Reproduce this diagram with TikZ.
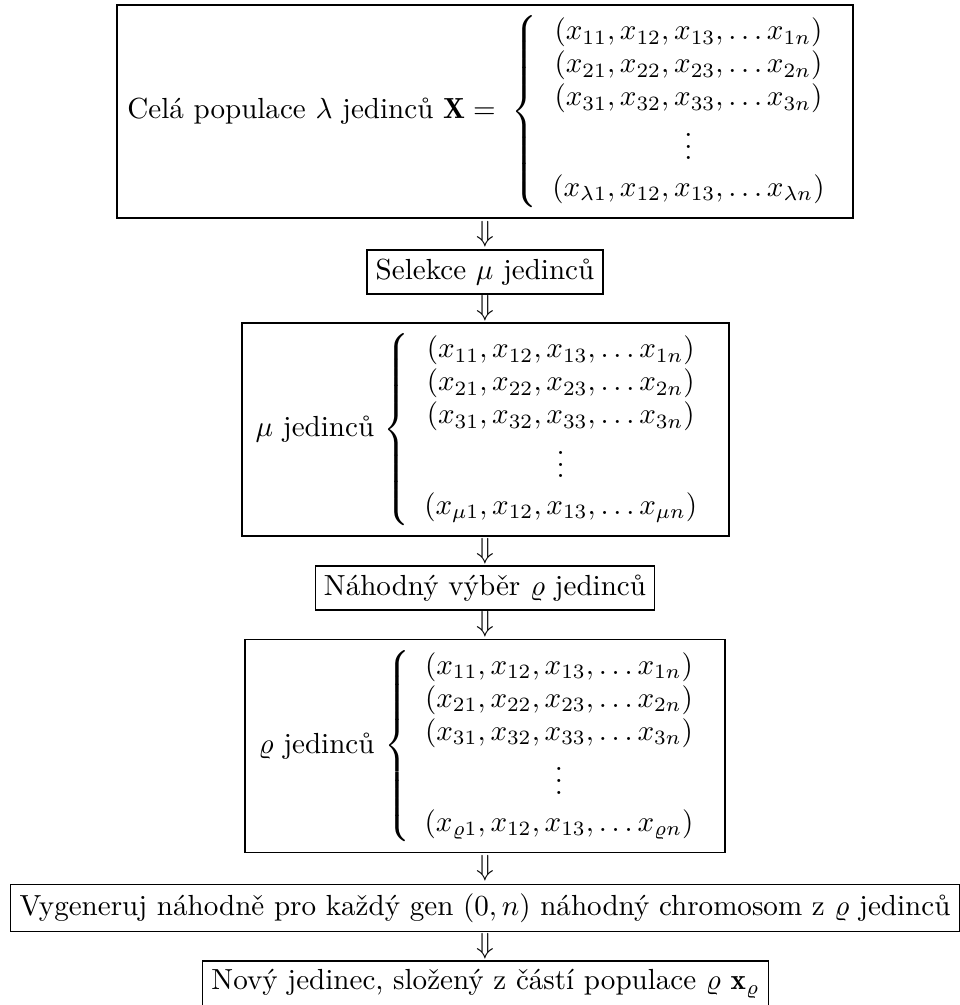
\documentclass[tikz,border=0pt]{standalone}
\usepackage{fontspec}
\usepackage{amsmath}
\renewcommand{\arraystretch}{0.95}
\begin{document}
\begin{tikzpicture}[x=0.344pt,y=-0.344pt,
  box/.style={draw=black, line width=0.4pt, inner sep=3pt, anchor=center, font=\normalsize},
  bigbox/.style={box, minimum height=73.3pt}]
\useasboundingbox (0,0) rectangle (959,1005);
\node[bigbox, minimum width=253.2pt] (b1) at (485,111.5)
  {Celá populace $\lambda$ jedinců $\mathbf{X} = \;\left\{\begin{array}{c}
   (x_{11},x_{12},x_{13},\ldots x_{1n})\\
   (x_{21},x_{22},x_{23},\ldots x_{2n})\\
   (x_{31},x_{32},x_{33},\ldots x_{3n})\\
   \vdots\\[1.3pt]
   (x_{\lambda 1},x_{12},x_{13},\ldots x_{\lambda n})
   \end{array}\right.$};
\node[box] (b2) at (485,272) {Selekce $\mu$ jedinců};
\node[bigbox, minimum width=167.5pt] (b3) at (485.5,429.5)
  {$\mu$ jedinců $\left\{\begin{array}{c}
   (x_{11},x_{12},x_{13},\ldots x_{1n})\\
   (x_{21},x_{22},x_{23},\ldots x_{2n})\\
   (x_{31},x_{32},x_{33},\ldots x_{3n})\\
   \vdots\\[1.3pt]
   (x_{\mu 1},x_{12},x_{13},\ldots x_{\mu n})
   \end{array}\right.$};
\node[box] (b4) at (485,588) {Náhodný výběr $\varrho$ jedinců};
\node[bigbox, minimum width=165.1pt] (b5) at (485,746)
  {$\varrho$ jedinců $\left\{\begin{array}{c}
   (x_{11},x_{12},x_{13},\ldots x_{1n})\\
   (x_{21},x_{22},x_{23},\ldots x_{2n})\\
   (x_{31},x_{32},x_{33},\ldots x_{3n})\\
   \vdots\\[1.3pt]
   (x_{\varrho 1},x_{12},x_{13},\ldots x_{\varrho n})
   \end{array}\right.$};
\node[box] (b6) at (485,908) {Vygeneruj náhodně pro každý gen $(0,n)$ náhodný chromosom z $\varrho$ jedinců};
\node[box] (b7) at (485.5,984) {Nový jedinec, složený z částí populace $\varrho$ $\mathbf{x}_\varrho$};
\path (b1) -- node {$\Downarrow$} (b2);
\path (b2) -- node {$\Downarrow$} (b3);
\path (b3) -- node {$\Downarrow$} (b4);
\path (b4) -- node {$\Downarrow$} (b5);
\path (b5) -- node {$\Downarrow$} (b6);
\path (b6) -- node {$\Downarrow$} (b7);
\end{tikzpicture}
\end{document}
